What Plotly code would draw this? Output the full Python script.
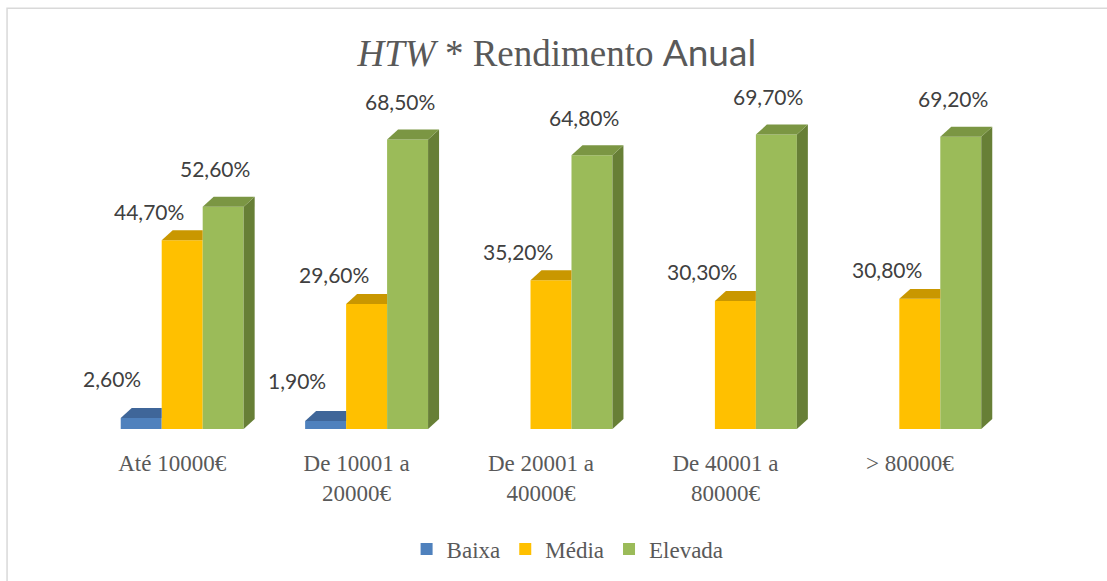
import plotly.graph_objects as go

# ---- data ----
categories = ["Até 10000€", "De 10001 a<br>20000€", "De 20001 a<br>40000€",
              "De 40001 a<br>80000€", "> 80000€"]
series_names = ["Baixa", "Média", "Elevada"]
baixa = [2.6, 1.9, None, None, None]
media = [44.7, 29.6, 35.2, 30.3, 30.8]
elevada = [52.6, 68.5, 64.8, 69.7, 69.2]
series_values = [baixa, media, elevada]

# ---- style ----
front_colors = ["#4F81BD", "#FFC000", "#9BBB59"]
top_colors = ["#3F6699", "#C99700", "#7B9643"]
side_colors = ["#355580", "#A67C00", "#677F36"]
label_shift = [(-29, 40), (-33, 29), (-8, 38)]   # px offsets of data labels (3D look)

W, H = 1107, 581
M_L, M_R, M_T, M_B = 90, 94.5, 91, 151
Y_MAX = 80
plot_w = W - M_L - M_R
plot_h = H - M_T - M_B
BARGAP = 1 / 3
n_s = len(series_values)
bw = (1 - BARGAP) / n_s
DX = 11 / (plot_w / 5)          # depth offset in data units (x)
DY = 10 / (plot_h / Y_MAX)      # depth offset in data units (y)

fig = go.Figure()
xs = list(range(len(categories)))

for s, (name, vals) in enumerate(zip(series_names, series_values)):
    fig.add_trace(go.Bar(
        x=xs, y=vals, name=name,
        marker=dict(color=front_colors[s], line=dict(width=0)),
        hoverinfo="skip",
    ))

# 3D faces (top + side) derived from the data values
for s, vals in enumerate(series_values):
    for i, v in enumerate(vals):
        if v is None:
            continue
        x0 = i + (s - (n_s - 1) / 2) * bw - bw / 2
        x1 = x0 + bw
        nxt = series_values[s + 1][i] if s + 1 < n_s else None
        hidden = nxt is not None and nxt >= v
        if hidden:
            tx = [x0, x1, x1, x0 + DX, x0]
            ty = [v, v, v + DY, v + DY, v]
        else:
            tx = [x0, x1, x1 + DX, x0 + DX, x0]
            ty = [v, v, v + DY, v + DY, v]
            fig.add_trace(go.Scatter(
                x=[x1, x1 + DX, x1 + DX, x1, x1], y=[0, DY, v + DY, v, 0],
                mode="lines", fill="toself", fillcolor=side_colors[s],
                line=dict(width=0, color=side_colors[s]),
                showlegend=False, hoverinfo="skip"))
        fig.add_trace(go.Scatter(
            x=tx, y=ty, mode="lines", fill="toself", fillcolor=top_colors[s],
            line=dict(width=0, color=top_colors[s]),
            showlegend=False, hoverinfo="skip"))

# data labels
for s, vals in enumerate(series_values):
    for i, v in enumerate(vals):
        if v is None:
            continue
        xc = i + (s - (n_s - 1) / 2) * bw
        fig.add_annotation(
            x=xc, y=v, text=f"{v:.2f}".replace(".", ",") + "%",
            showarrow=False, xshift=label_shift[s][0], yshift=label_shift[s][1],
            font=dict(family="Lato", size=21, color="#404040"),
            xanchor="center", yanchor="middle")

# outer chart border (left / top visible)
fig.add_shape(type="rect", xref="paper", yref="paper",
              x0=(7 - M_L) / plot_w, x1=(W + 20 - M_L) / plot_w,
              y0=-(H + 20 - (M_T + plot_h)) / plot_h, y1=(M_T + plot_h - 8) / plot_h,
              line=dict(color="#D9D9D9", width=1.5), layer="below")

fig.update_layout(
    width=W, height=H,
    margin=dict(l=M_L, r=M_R, t=M_T, b=M_B, pad=0),
    paper_bgcolor="white", plot_bgcolor="white",
    barmode="group", bargap=BARGAP, bargroupgap=0,
    title=dict(
        text="<i>HTW</i> * Rendimento <span style='font-family:Lato'>Anual</span>",
        x=0.503, xanchor="center", y=1 - 53 / H, yanchor="middle",
        font=dict(family="Liberation Serif", size=37, color="#595959")),
    xaxis=dict(range=[-0.5, len(categories) - 0.5], tickvals=xs, ticktext=categories,
               showgrid=False, zeroline=False, showline=False, ticks="",
               ticklabelshift=-10, ticklabelstandoff=18,
               tickfont=dict(family="Liberation Serif", size=23, color="#595959")),
    yaxis=dict(range=[0, Y_MAX], visible=False, showgrid=False, zeroline=False),
    legend=dict(orientation="h", x=0.518, xanchor="center", y=-(549 - (M_T + plot_h)) / plot_h,
                yanchor="middle", font=dict(family="Liberation Serif", size=23, color="#595959"),
                itemwidth=30, traceorder="normal"),
    showlegend=True,
)

fig.write_html("out.html", config={"displayModeBar": False},
               post_script="document.body.style.margin='0';")
